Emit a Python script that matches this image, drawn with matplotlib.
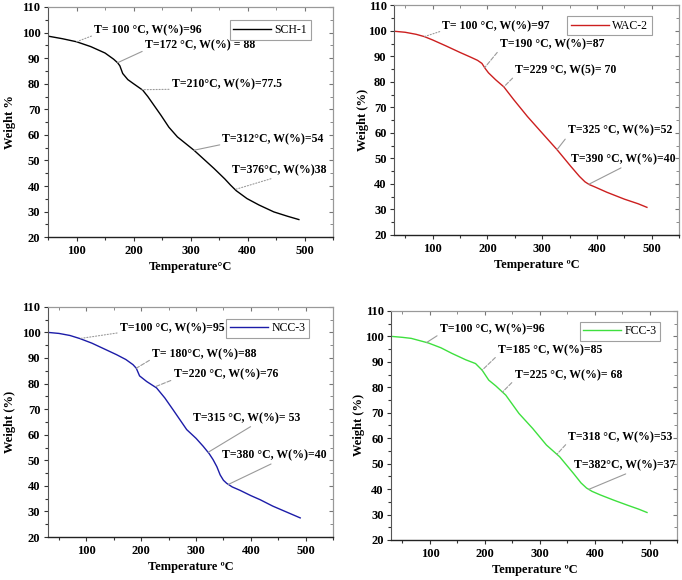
import numpy as np
import matplotlib
matplotlib.use("Agg")
import matplotlib.pyplot as plt
from matplotlib.ticker import MultipleLocator

plt.rcParams['font.family'] = ['Liberation Serif', 'DejaVu Serif']

# ---------------- data ----------------
sch_T = [50, 75, 100, 125, 150, 165, 172, 176, 181, 190, 200, 216, 225, 248, 262, 277, 306, 341, 360, 370, 380, 399, 420, 446, 470, 490]
sch_W = [98.6, 97.6, 96.4, 94.5, 92, 89.6, 88.2, 87, 84, 81.6, 80, 77.5, 75, 67.7, 63, 59.2, 54, 46.9, 42.8, 40.4, 38.2, 35.1, 32.6, 29.9, 28.2, 26.9]

wac_T = [30, 50, 70, 85, 100, 125, 150, 170, 182, 190, 196, 202, 215, 230, 248, 273, 297, 327, 352, 368, 378, 386, 396, 418, 450, 475, 491]
wac_W = [99.8, 99.4, 98.6, 97.7, 96.4, 94, 91.5, 89.6, 88.4, 87.2, 85.2, 83.5, 80.8, 78, 73, 66.4, 60.6, 53.4, 46.9, 42.9, 40.8, 39.7, 38.8, 36.7, 34, 32.2, 30.8]

ncc_T = [30, 50, 70, 88, 110, 130, 155, 172, 185, 191, 197, 210, 228, 243, 258, 283, 300, 313, 324, 331, 338, 344, 350, 356, 366, 380, 400, 417, 440, 465, 490]
ncc_W = [100, 99.6, 98.8, 97.6, 95.8, 93.8, 91.3, 89.4, 87.4, 86, 83, 80.8, 78.3, 74.4, 69.8, 62, 58.6, 55.5, 52.6, 50.3, 47.5, 44.3, 42.2, 41, 39.6, 38.3, 36.2, 34.6, 32.1, 29.8, 27.5]

fcc_T = [29, 50, 66, 97, 120, 140, 165, 183, 195, 207, 220, 238, 262, 287, 312, 336, 361, 375, 385, 395, 410, 435, 459, 480, 495]
fcc_W = [100, 99.6, 99.2, 97.4, 95.5, 93.3, 90.8, 89.3, 86.7, 82.8, 80.5, 76.9, 69.7, 63.8, 57.3, 52.7, 46.2, 42.4, 40.4, 39.1, 37.7, 35.6, 33.7, 32.1, 30.8]

names = ["SCH-1", "WAC-2", "NCC-3", "FCC-3"]
ylabels = ["Weight %", "Weight (%)", "Weight (%)", "Weight (%)"]
xlabels = ["Temperature°C", "Temperature \u00baC", "Temperature \u00baC", "Temperature \u00baC"]

# annotation: (text, T of point, text x, text y, line style, relpos x)
ann_sch = [("T= 100 °C, W(%)=96", 100, 131, 100.9, ':', 0.0),
           ("T=172 °C, W(%) = 88", 172, 220, 95.0, '-', 0.0),
           ("T=210°C, W(%)=77.5", 215, 267, 79.7, ':', 0.0),
           ("T=312°C, W(%)=54", 306, 356, 58.2, '-', 0.0),
           ("T=376°C, W(%)38", 378, 373, 46.3, ':', 0.55)]
ann_wac = [("T= 100 °C, W(%)=97", 85, 118, 101.9, ':', 0.0),
           ("T=190 °C, W(%)=87", 195, 223, 94.7, '--', 0.0),
           ("T=229 °C, W(5)= 70", 230, 251, 84.4, '--', 0.0),
           ("T=325 °C, W(%)=52", 327, 347, 60.8, '-', 0.0),
           ("T=390 °C, W(%)=40", 385, 353, 49.7, '-', 0.55)]
ann_ncc = [("T=100 °C, W(%)=95", 88, 161, 101.8, ':', 0.0),
           ("T= 180°C, W(%)=88", 191, 220, 91.6, '--', 0.0),
           ("T=220 °C, W(%)=76", 225, 259, 83.5, '--', 0.0),
           ("T=315 °C, W(%)= 53", 322, 294, 66.6, '-', 0.6),
           ("T=380 °C, W(%)=40", 359, 347, 52.0, '-', 0.55)]
ann_fcc = [("T=100 °C, W(%)=96", 94, 118, 102.8, '-', 0.0),
           ("T=185 °C, W(%)=85", 195, 224, 94.6, '--', 0.0),
           ("T=225 °C, W(%)= 68", 232, 254, 84.8, '--', 0.0),
           ("T=318 °C, W(%)=53", 331, 352, 60.5, '--', 0.0),
           ("T=382°C, W(%)=37", 389, 363, 49.4, '-', 0.6)]

series = [(sch_T, sch_W, ann_sch), (wac_T, wac_W, ann_wac),
          (ncc_T, ncc_W, ann_ncc), (fcc_T, fcc_W, ann_fcc)]
colors = ["#000000", "#cc1f1f", "#1c1ca8", "#3ee03e"]
xmins = [50, 30, 30, 30]

# ---------------- layout ----------------
positions = [[0.0704, 0.591, 0.418, 0.397],
             [0.578, 0.595, 0.418, 0.396],
             [0.0704, 0.074, 0.418, 0.397],
             [0.574, 0.069, 0.419, 0.395]]
leg_pos = [(0.78, 0.90), (0.755, 0.91), (0.77, 0.907), (0.80, 0.91)]
ylab_x = [-0.112, -0.088, -0.112, -0.094]
xlab_y = [-0.105, -0.105, -0.105, -0.105]

fig = plt.figure(figsize=(6.82, 5.8), dpi=100)

for i in range(4):
    T, W, anns = series[i]
    ax = fig.add_axes(positions[i])
    ax.plot(T, W, color=colors[i], lw=1.0, label=names[i])
    ax.set_xlim(xmins[i], 550)
    ax.set_ylim(20, 110)
    ax.xaxis.set_major_locator(MultipleLocator(100))
    ax.xaxis.set_minor_locator(MultipleLocator(50))
    ax.yaxis.set_major_locator(MultipleLocator(10))
    ax.yaxis.set_minor_locator(MultipleLocator(5))
    ax.set_xticks([100, 200, 300, 400, 500])
    ax.tick_params(which='both', direction='out', top=False, right=False,
                   labelsize=9, width=0.8, color='#333333', pad=2.5)
    ax.tick_params(which='major', length=3)
    ax.tick_params(which='minor', length=2)
    for lab in ax.get_xticklabels() + ax.get_yticklabels():
        lab.set_fontweight('bold')
    # mirrored inward ticks on top and right
    sec = ax.secondary_xaxis('top')
    sec.xaxis.set_major_locator(MultipleLocator(100))
    sec.xaxis.set_minor_locator(MultipleLocator(50))
    sec.tick_params(which='both', direction='in', labeltop=False, color='#777777')
    sec.tick_params(which='major', length=3)
    sec.tick_params(which='minor', length=2)
    sec.spines['top'].set_color('#999999')
    secy = ax.secondary_yaxis('right')
    secy.yaxis.set_major_locator(MultipleLocator(10))
    secy.yaxis.set_minor_locator(MultipleLocator(5))
    secy.tick_params(which='both', direction='in', labelright=False, color='#777777')
    secy.tick_params(which='major', length=3)
    secy.tick_params(which='minor', length=2)
    secy.spines['right'].set_color('#999999')
    ax.spines['top'].set_color('#999999')
    ax.spines['right'].set_color('#999999')
    ax.spines['left'].set_color('#555555')
    ax.spines['bottom'].set_color('#222222')
    ax.spines['bottom'].set_linewidth(1.0)

    ax.set_xlabel(xlabels[i], fontsize=9, fontweight='bold')
    ax.xaxis.set_label_coords(0.5, xlab_y[i])
    ax.set_ylabel(ylabels[i], fontsize=9, fontweight='bold')
    ax.yaxis.set_label_coords(ylab_x[i], 0.5)

    for (txt, tp, tx, ty, ls, rp) in anns:
        wp = float(np.interp(tp, T, W))
        ax.annotate(txt, xy=(tp, wp), xytext=(tx, ty), fontsize=8.5,
                    fontweight='bold', ha='left', va='center',
                    arrowprops=dict(arrowstyle='-', color='#9a9a9a', lw=0.8,
                                    linestyle=ls, shrinkA=0, shrinkB=0,
                                    relpos=(rp, 0.1)))

    leg = ax.legend(loc='center', bbox_to_anchor=leg_pos[i], fontsize=8.5,
                    frameon=True, fancybox=False, handlelength=3.2,
                    borderpad=0.3, handletextpad=0.3, borderaxespad=0)
    leg.get_frame().set_edgecolor('#888888')
    leg.get_frame().set_linewidth(0.8)

fig.savefig("out.png", dpi=100)
